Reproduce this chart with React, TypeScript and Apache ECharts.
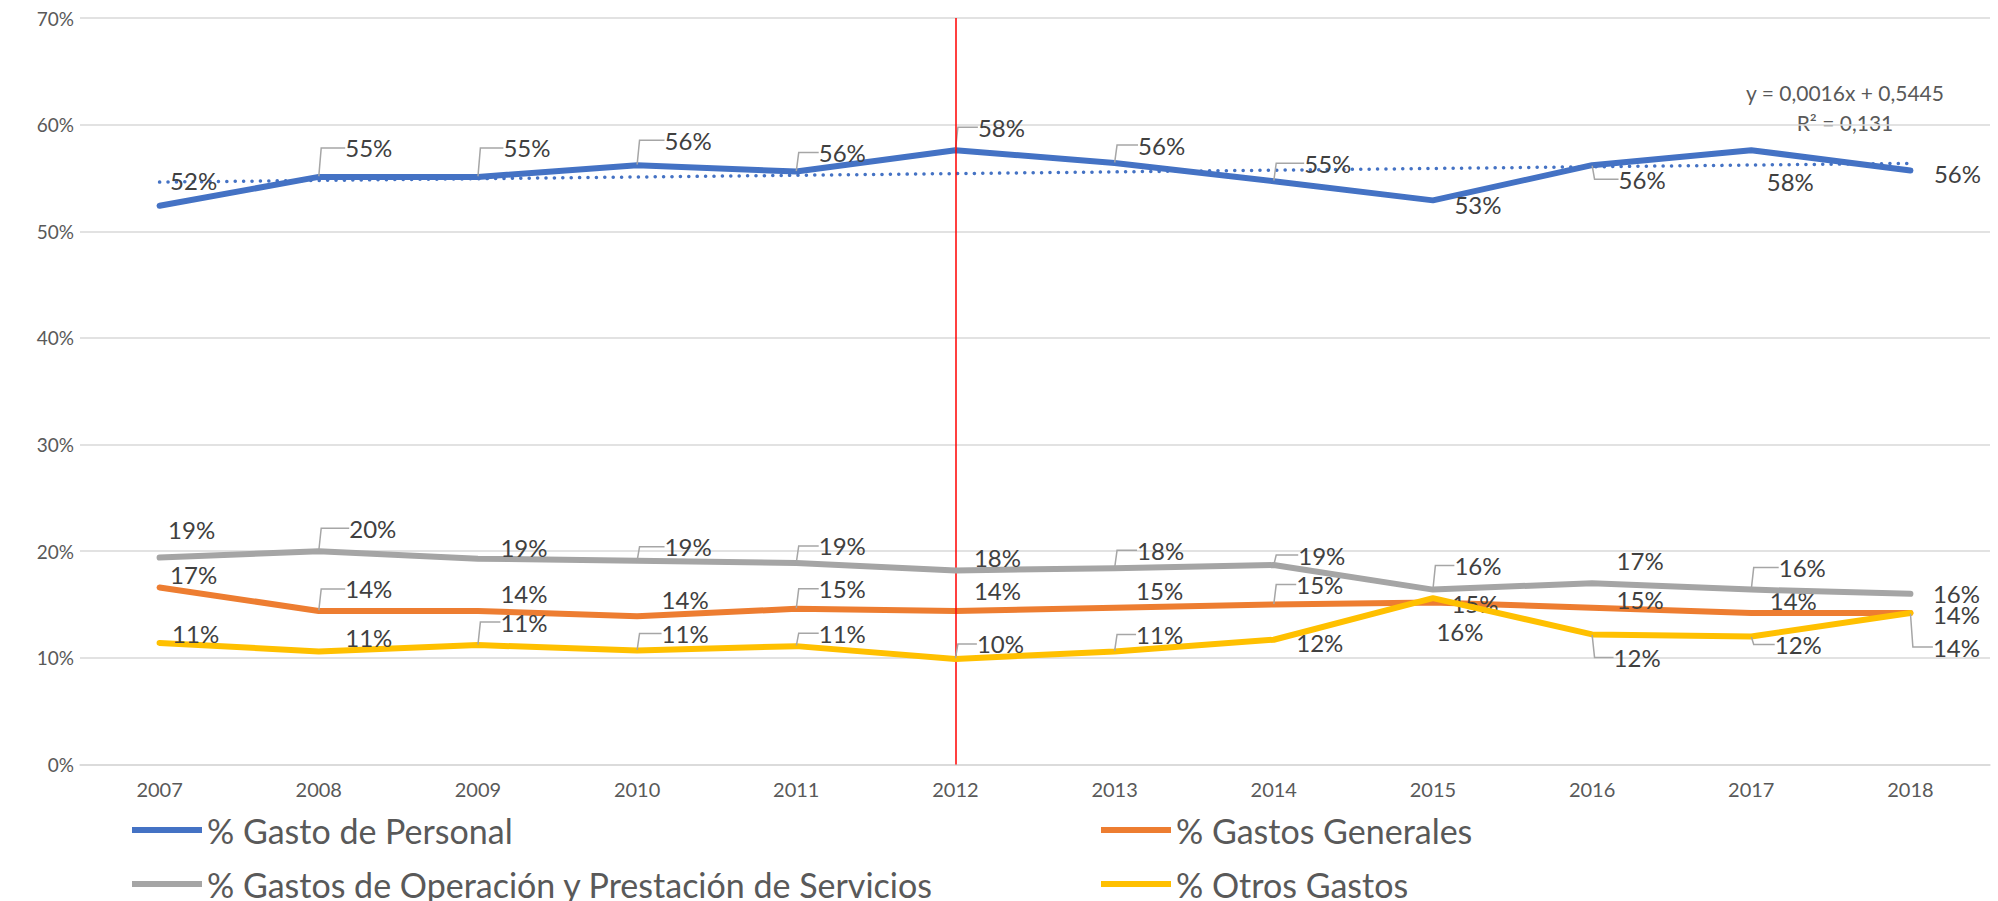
import React, { useEffect, useRef } from "react";
import * as echarts from "echarts";

// ---------- data ----------
const years = ["2007", "2008", "2009", "2010", "2011", "2012", "2013", "2014", "2015", "2016", "2017", "2018"];
const gastoPersonal = [52.4, 55.1, 55.1, 56.2, 55.6, 57.6, 56.4, 54.7, 52.9, 56.2, 57.6, 55.7];
const gastosGenerales = [16.6, 14.4, 14.4, 13.9, 14.6, 14.4, 14.7, 15.0, 15.2, 14.7, 14.2, 14.2];
const gastosOperacion = [19.4, 20.0, 19.3, 19.1, 18.9, 18.2, 18.4, 18.7, 16.4, 17.0, 16.4, 16.0];
const otrosGastos = [11.4, 10.6, 11.2, 10.7, 11.1, 9.9, 10.6, 11.7, 15.6, 12.2, 12.0, 14.2];
const trendStart = 54.61;
const trendEnd = 56.37;
const trendEquation = "y = 0,0016x + 0,5445";
const trendR2 = "R² = 0,131";
const markedYear = "2012";
const yMin = 0;
const yMax = 70;
const yStep = 10;

const seriesNames = [
  "% Gasto de Personal",
  "% Gastos Generales",
  "% Gastos de Operación y Prestación de Servicios",
  "% Otros Gastos",
];
const seriesColors = ["#4472C4", "#ED7D31", "#A5A5A5", "#FFC000"];

// ---------- label layout (style config) ----------
const labelOffsets: number[][][] = [
  [[34, -25], [50, -29], [49, -29], [51, -25], [46, -19], [46, -23], [47, -18], [54, -18], [45, 4], [50, 14], [39, 31], [47, 3]],
  [[34, -13], [50, -22], [46, -17], [48, -17], [46, -20], [42, -20], [45, -17], [46, -20], [42, 1], [48, -8], [42, -13], [46, 1]],
  [[32, -28], [54, -23], [46, -11], [51, -14], [46, -17], [42, -13], [46, -18], [48, -10], [45, -24], [48, -23], [51, -22], [46, 0]],
  [[36, -9], [50, -14], [46, -23], [48, -17], [46, -13], [45, -15], [45, -17], [46, 3], [27, 33], [45, 23], [47, 8], [46, 34]],
];
const leaderFlags: number[][] = [
  [0, 1, 1, 1, 1, 1, 1, 1, 0, 1, 0, 0],
  [0, 1, 0, 0, 1, 0, 0, 1, 0, 0, 0, 0],
  [0, 1, 0, 1, 1, 0, 1, 1, 1, 0, 1, 0],
  [0, 0, 1, 1, 1, 1, 1, 0, 0, 1, 1, 1],
];
const LABEL_HALF_WIDTH = 26;

const FONT = "Lato";

export default function App() {
  const ref = useRef<HTMLDivElement>(null);

  useEffect(() => {
    document.body.style.margin = "0";
    if (!ref.current) return;
    const chart = echarts.init(ref.current, undefined, { renderer: "svg" });

    const valueSets = [gastoPersonal, gastosGenerales, gastosOperacion, otrosGastos];

    const lineSeries: any[] = valueSets.map((vals, si) => ({
      name: seriesNames[si],
      type: "line",
      data: vals.map((v, i) => ({
        value: v,
        labelLine: {
          show: !!leaderFlags[si][i],
          length2: Math.max(3, labelOffsets[si][i][0] - LABEL_HALF_WIDTH),
        },
      })),
      symbol: "circle",
      symbolSize: 1,
      showSymbol: true,
      itemStyle: { color: seriesColors[si] },
      lineStyle: { color: seriesColors[si], width: 6, cap: "round", join: "round" },
      label: {
        show: true,
        position: "inside",
        formatter: (p: any) => `${Math.round(p.value)}%`,
        color: "#404040",
        fontFamily: FONT,
        fontSize: 24,
      },
      labelLine: {
        show: false,
        lineStyle: { color: "#A6A6A6", width: 1.5 },
      },
      labelLayout: (p: any) => {
        const o = labelOffsets[si][p.dataIndex];
        return { dx: o[0], dy: o[1] };
      },
      markLine:
        si === 0
          ? {
              silent: true,
              symbol: "none",
              label: { show: false },
              lineStyle: { color: "#FF0000", width: 1.5, type: "solid" },
              data: [{ xAxis: markedYear }],
            }
          : undefined,
      z: 3 + si,
    }));

    const trendSeries = {
      name: "trend",
      type: "line",
      data: [
        [0, trendStart],
        [years.length - 1, trendEnd],
      ],
      symbol: "none",
      lineStyle: { color: "#4472C4", width: 3.5, type: [0.1, 8.3], cap: "round" },
      z: 2,
      silent: true,
    };

    const legendCommon = {
      orient: "vertical",
      top: 803,
      height: 150,
      icon: "rect",
      itemWidth: 70,
      itemHeight: 6,
      itemGap: 10,
      textStyle: { color: "#595959", fontFamily: FONT, fontSize: 34, lineHeight: 44 },
      selectedMode: false,
    };

    chart.setOption({
      animation: false,
      backgroundColor: "#ffffff",
      grid: { left: 80, right: 8, top: 18, bottom: 136.5, containLabel: false },
      xAxis: {
        type: "category",
        data: years,
        boundaryGap: true,
        axisLine: { show: true, lineStyle: { color: "#D9D9D9", width: 1.5 } },
        axisTick: { show: false },
        axisLabel: { color: "#595959", fontFamily: FONT, fontSize: 20, margin: 14 },
        splitLine: { show: false },
      },
      yAxis: {
        type: "value",
        min: yMin,
        max: yMax,
        interval: yStep,
        axisLine: { show: false },
        axisTick: { show: false },
        axisLabel: {
          color: "#595959",
          fontFamily: FONT,
          fontSize: 19,
          margin: 6,
          formatter: (v: number) => `${v}%`,
        },
        splitLine: { lineStyle: { color: "#D9D9D9", width: 1.5 } },
      },
      legend: [
        { ...legendCommon, data: [seriesNames[0], seriesNames[2]], left: 127 },
        { ...legendCommon, data: [seriesNames[1], seriesNames[3]], left: 1096 },
      ],
      graphic: [
        {
          type: "text",
          x: 1845,
          y: 92,
          style: {
            text: trendEquation,
            fill: "#595959",
            font: `21px ${FONT}`,
            align: "center",
            textAlign: "center",
            verticalAlign: "middle",
            textVerticalAlign: "middle",
          },
        },
        {
          type: "text",
          x: 1845,
          y: 122,
          style: {
            text: trendR2,
            fill: "#595959",
            font: `21px ${FONT}`,
            align: "center",
            textAlign: "center",
            verticalAlign: "middle",
            textVerticalAlign: "middle",
          },
        },
      ],
      series: [...lineSeries, trendSeries],
    });

    return () => chart.dispose();
  }, []);

  return <div ref={ref} style={{ width: 1998, height: 901 }} />;
}
